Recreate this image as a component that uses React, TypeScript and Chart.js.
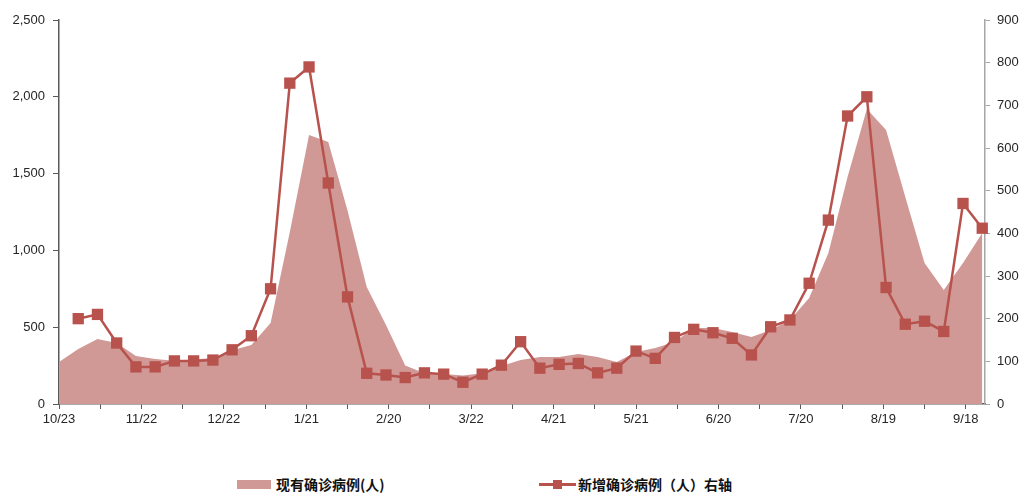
import React, { useEffect, useRef } from 'react';
import { Chart, registerables } from 'chart.js';

Chart.register(...registerables);

// x labels (one every 30 days, starting 10/23)
const dateLabels = ['10/23', '11/22', '12/22', '1/21', '2/20', '3/22', '4/21', '5/21', '6/20', '7/20', '8/19', '9/18'];
const labelDays = [0, 30, 60, 90, 120, 150, 180, 210, 240, 270, 300, 330];
const minorTickDays = [15, 45, 75, 105, 135, 165, 195, 225, 255, 285, 315];

// weekly observation days (offset from 10/23)
const weekDays = [
  0, 7, 14, 21, 28, 35, 42, 49, 56, 63,
  70, 77, 84, 91, 98, 105, 112, 119, 126, 133,
  140, 147, 154, 161, 168, 175, 182, 189, 196, 203,
  210, 217, 224, 231, 238, 245, 252, 259, 266, 273,
  280, 287, 294, 301, 308, 315, 322, 329, 336,
];

// 现有确诊病例(人) — left axis
const activeCases = [
  273, 358, 423, 397, 312, 293, 282, 290, 300, 350,
  384, 527, 1120, 1751, 1706, 1260, 762, 514, 250, 200,
  195, 185, 200, 247, 286, 306, 306, 325, 306, 273,
  339, 365, 404, 495, 495, 469, 436, 482, 547, 690,
  983, 1480, 1920, 1784, 1348, 918, 742, 918, 1113,
];

// 新增确诊病例（人）— right axis (starts one week later)
const newCaseDays = weekDays.slice(1);
const newCases = [
  200, 210, 143, 87, 87, 101, 101, 103, 127, 160,
  270, 752, 790, 518, 251, 72, 68, 62, 73, 70,
  51, 70, 91, 146, 84, 93, 95, 73, 84, 124,
  107, 156, 175, 167, 154, 115, 181, 197, 283, 431,
  675, 720, 273, 187, 194, 170, 470, 412,
];

const AREA = 'rgb(208,153,150)';
const LINE = 'rgb(183,82,77)';
const TEXT = '#262626';
const FONT = { family: '"Liberation Sans", Arial, sans-serif', size: 13 };

export default function App() {
  const ref = useRef<HTMLCanvasElement>(null);

  useEffect(() => {
    const chart = new Chart(ref.current!, {
      type: 'line',
      data: {
        datasets: [
          {
            label: '现有确诊病例(人)',
            data: weekDays.map((d, i) => ({ x: d, y: activeCases[i] })),
            yAxisID: 'yL',
            fill: 'origin',
            backgroundColor: AREA,
            borderColor: AREA,
            borderWidth: 0,
            pointRadius: 0,
            tension: 0,
            order: 2,
          },
          {
            label: '新增确诊病例（人）右轴',
            data: newCaseDays.map((d, i) => ({ x: d, y: newCases[i] })),
            yAxisID: 'yR',
            fill: false,
            borderColor: LINE,
            backgroundColor: LINE,
            borderWidth: 2.5,
            pointStyle: 'rect',
            pointRadius: 8,
            pointBorderWidth: 0,
            pointBackgroundColor: LINE,
            pointBorderColor: LINE,
            tension: 0,
            order: 1,
            clip: false,
          },
        ],
      } as any,
      options: {
        responsive: false,
        animation: false,
        devicePixelRatio: 1,
        layout: { padding: { top: 20, left: 0, right: 0, bottom: 0 } },
        plugins: { legend: { display: false }, tooltip: { enabled: false } },
        scales: {
          x: {
            type: 'linear',
            min: 0,
            max: 337,
            border: { display: true, color: '#595959', width: 1.5 },
            grid: { display: true, drawOnChartArea: false, drawTicks: true, tickLength: 5, color: '#595959' },
            afterBuildTicks: (scale: any) => {
              scale.ticks = [...labelDays, ...minorTickDays].sort((a, b) => a - b).map((v) => ({ value: v }));
            },
            afterFit: (scale: any) => {
              scale.height = 36;
            },
            ticks: {
              autoSkip: false,
              maxRotation: 0,
              padding: 3,
              color: TEXT,
              font: FONT,
              callback: (v: any) => {
                const i = labelDays.indexOf(Number(v));
                return i >= 0 ? dateLabels[i] : '';
              },
            },
          },
          yL: {
            type: 'linear',
            position: 'left',
            min: 0,
            max: 2500,
            border: { display: true, color: '#595959', width: 1.5 },
            grid: { display: true, drawOnChartArea: false, drawTicks: true, tickLength: 6, color: '#595959' },
            afterFit: (scale: any) => {
              scale.width = 59;
            },
            ticks: {
              stepSize: 500,
              padding: 8,
              color: TEXT,
              font: FONT,
              callback: (v: any) => Number(v).toLocaleString('en-US'),
            },
          },
          yR: {
            type: 'linear',
            position: 'right',
            min: 0,
            max: 900,
            border: { display: true, color: '#a6a6a6', width: 1.5 },
            grid: { display: true, drawOnChartArea: false, drawTicks: true, tickLength: 5, color: '#a6a6a6' },
            afterFit: (scale: any) => {
              scale.width = 35;
            },
            ticks: {
              stepSize: 100,
              padding: 7,
              color: TEXT,
              font: FONT,
            },
          },
        },
      } as any,
    });
    return () => chart.destroy();
  }, []);

  const legendFont: React.CSSProperties = {
    position: 'absolute',
    top: 475,
    fontFamily: '"Noto Sans CJK SC", sans-serif',
    fontWeight: 700,
    fontSize: 14,
    lineHeight: '18px',
    color: '#111',
    whiteSpace: 'nowrap',
  };

  return (
    <div style={{ position: 'absolute', left: 0, top: 0, width: 1020, height: 494, background: '#fff' }}>
      <canvas ref={ref} width={1020} height={440} style={{ display: 'block', width: 1020, height: 440 }} />
      <div style={{ position: 'absolute', left: 237, top: 480, width: 34, height: 9, background: AREA }} />
      <div style={{ ...legendFont, left: 276 }}>现有确诊病例(人)</div>
      <div style={{ position: 'absolute', left: 539, top: 483, width: 37, height: 3, background: LINE }} />
      <div style={{ position: 'absolute', left: 553, top: 480, width: 9, height: 9, background: LINE }} />
      <div style={{ ...legendFont, left: 578 }}>新增确诊病例（人）右轴</div>
    </div>
  );
}
